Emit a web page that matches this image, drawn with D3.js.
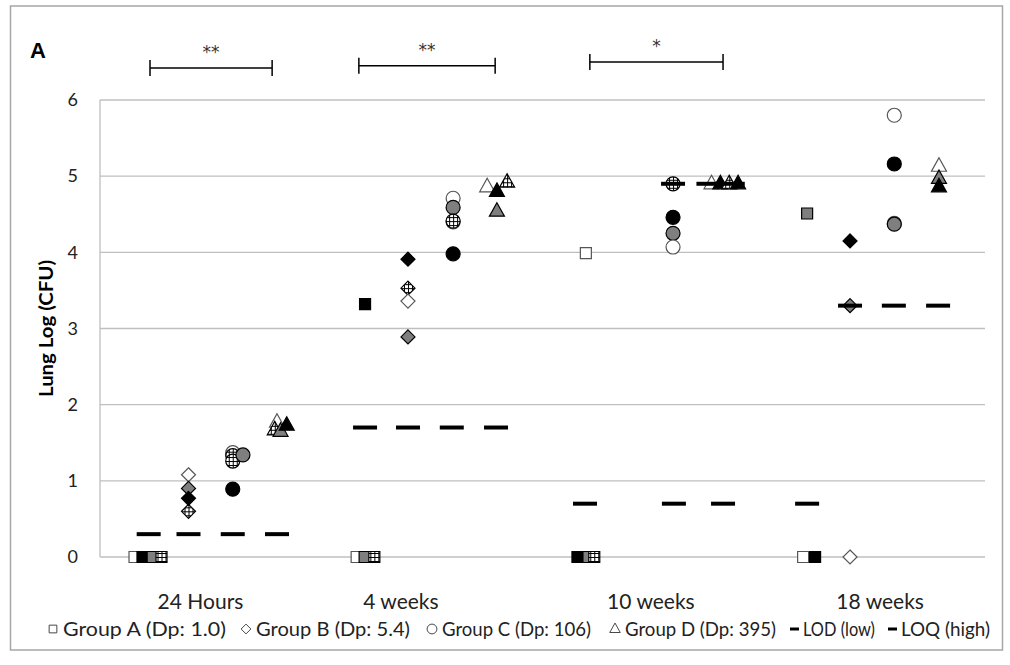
<!DOCTYPE html>
<html>
<head>
<meta charset="utf-8">
<script src="https://cdn.jsdelivr.net/npm/d3@7"></script>
<style>
body { margin: 0; background: #fff; }
svg { display: block; font-family: Lato, "Open Sans", sans-serif; }
</style>
</head>
<body>
<div id="chart"></div>
<script>
// each point: [position on the hidden 0-20 x axis, log CFU, fill]
// fill: w = white, g = grey, b = black, h = hatched
var groupA = [
    [0.78, 0, "w"], [0.96, 0, "b"], [1.19, 0, "g"], [1.39, 0, "h"],
    [5.8, 0, "w"], [5.98, 0, "g"], [6.2, 0, "h"], [5.99, 3.32, "b"],
    [10.98, 3.99, "w"], [10.96, 0, "g"], [10.79, 0, "b"], [11.17, 0, "h"],
    [15.98, 4.51, "g"], [15.89, 0, "w"], [16.16, 0, "b"]
];
var groupB = [
    [2.0, 1.08, "w"], [2.0, 0.9, "g"], [2.0, 0.77, "b"], [2.0, 0.6, "h"],
    [6.96, 3.91, "b"], [6.96, 3.53, "h"], [6.96, 3.36, "w"], [6.96, 2.89, "g"],
    [16.95, 4.15, "b"], [16.95, 3.3, "g"], [16.95, 0, "w"]
];
var groupC = [
    [3.0, 1.37, "w"], [3.0, 1.33, "h"], [3.0, 1.26, "h"], [3.23, 1.34, "g"], [3.0, 0.89, "b"],
    [7.98, 4.71, "w"], [7.98, 4.59, "g"], [7.98, 4.4, "w"], [7.98, 4.41, "h"], [7.98, 3.98, "b"],
    [12.95, 4.9, "h"], [12.95, 4.46, "b"], [12.95, 4.25, "g"], [12.95, 4.07, "w"],
    [17.95, 5.8, "w"], [17.95, 5.16, "b"], [17.95, 4.38, "w"], [17.95, 4.37, "g"]
];
var groupD = [
    [4.0, 1.77, "w"], [3.95, 1.67, "h"], [4.08, 1.65, "g"], [4.22, 1.73, "b"],
    [8.75, 4.86, "w"], [8.97, 4.8, "b"], [9.2, 4.92, "h"], [8.97, 4.54, "g"],
    [13.82, 4.9, "w"], [14.02, 4.9, "b"], [14.22, 4.9, "h"], [14.42, 4.9, "b"],
    [18.96, 5.13, "w"], [18.96, 4.97, "g"], [18.96, 4.86, "b"]
];
var lod = [[1.1, 0.3], [2.0, 0.3], [3.0, 0.3], [4.0, 0.3],
           [10.96, 0.7], [12.97, 0.7], [14.08, 0.7], [15.98, 0.7]];
var loq = [[5.99, 1.7], [6.96, 1.7], [7.95, 1.7], [8.95, 1.7],
           [12.95, 4.9], [13.75, 4.9], [14.3, 4.9],
           [16.95, 3.3], [17.94, 3.3], [18.94, 3.3]];

var sigStart = [1.13, 5.85, 11.07];
var sigEnd = [3.89, 8.93, 14.08];
var sigLevel = [6.42, 6.45, 6.5];
var sigLabel = ["**", "**", "*"];

var categories = ["24 Hours", "4 weeks", "10 weeks", "18 weeks"];
var categoryPos = [2.27, 6.8, 12.45, 17.63];
var yTicks = [0, 1, 2, 3, 4, 5, 6];
var xTicks = [0, 2, 4, 6, 8, 10, 12, 14, 16, 18, 20];
var legendLabels = ["Group A (Dp: 1.0)", "Group B (Dp: 5.4)", "Group C (Dp: 106)",
                    "Group D (Dp: 395)", "LOD (low)", "LOQ (high)"];

var width = 1010, height = 665;

var x = d3.scaleLinear().domain([0, 20]).range([100, 985]);
var y = d3.scaleLinear().domain([0, 6]).range([557, 100]);

var svg = d3.select("#chart").append("svg")
    .attr("width", width)
    .attr("height", height);

var defs = svg.append("defs");
var pat = defs.append("pattern")
    .attr("id", "hatch")
    .attr("patternUnits", "userSpaceOnUse")
    .attr("width", 4).attr("height", 4);
pat.append("rect").attr("width", 4).attr("height", 4).attr("fill", "#fff");
pat.append("path").attr("d", "M0,0.5H4M0.5,0V4").attr("stroke", "#000").attr("stroke-width", 1);

defs.append("clipPath").attr("id", "tickclip")
    .append("rect").attr("x", 80).attr("y", 574).attr("width", 930).attr("height", 4);

// figure frame
svg.append("rect")
    .attr("x", 10.5).attr("y", 6)
    .attr("width", 992).attr("height", 644)
    .attr("fill", "none")
    .attr("stroke", "#a6a6a6")
    .attr("stroke-width", 1.5);

svg.append("text")
    .attr("x", 30).attr("y", 58)
    .attr("font-family", "Liberation Sans, Arial, sans-serif")
    .attr("font-size", 22).attr("font-weight", "bold")
    .text("A");

// grid
svg.append("g").selectAll("line")
    .data(yTicks)
    .join("line")
    .attr("x1", x(0)).attr("x2", x(20))
    .attr("y1", d => y(d)).attr("y2", d => y(d))
    .attr("stroke", "#bfbfbf").attr("stroke-width", 1.3);

svg.append("line")
    .attr("x1", x(0)).attr("x2", x(0))
    .attr("y1", y(0)).attr("y2", y(6))
    .attr("stroke", "#bfbfbf").attr("stroke-width", 1.3);

var yAxis = svg.append("g")
    .attr("transform", "translate(" + x(0) + ",0)")
    .call(d3.axisLeft(y).tickValues(yTicks).tickSize(0).tickPadding(22).tickFormat(d3.format("d")));
yAxis.select(".domain").remove();
yAxis.selectAll("text")
    .attr("font-family", "Lato, sans-serif")
    .attr("font-size", 18)
    .attr("fill", "#222");

// x tick labels, mostly hidden under the category labels
var xAxis = svg.append("g")
    .attr("clip-path", "url(#tickclip)")
    .attr("transform", "translate(0," + y(0) + ")")
    .call(d3.axisBottom(x).tickValues(xTicks).tickSize(0).tickPadding(18).tickFormat(d3.format("d")));
xAxis.select(".domain").remove();
xAxis.selectAll("text")
    .attr("font-family", "Lato, sans-serif")
    .attr("font-size", 16)
    .attr("fill", "#444");

svg.append("text")
    .attr("transform", "translate(53," + y(3) + ") rotate(-90)")
    .attr("text-anchor", "middle")
    .attr("font-size", 19).attr("font-weight", "bold")
    .attr("textLength", 137).attr("lengthAdjust", "spacingAndGlyphs")
    .text("Lung Log (CFU)");

// significance brackets
var sig = svg.append("g");
sigStart.forEach(function (s, i) {
    var yy = y(sigLevel[i]);
    sig.append("line").attr("x1", x(s)).attr("x2", x(sigEnd[i]))
        .attr("y1", yy).attr("y2", yy).attr("stroke", "#000").attr("stroke-width", 1.5);
    [s, sigEnd[i]].forEach(function (e) {
        sig.append("line").attr("x1", x(e)).attr("x2", x(e))
            .attr("y1", yy - 8).attr("y2", yy + 8)
            .attr("stroke", "#000").attr("stroke-width", 1.5);
    });
    sig.append("text")
        .attr("x", (x(s) + x(sigEnd[i])) / 2)
        .attr("y", yy - 10)
        .attr("text-anchor", "middle")
        .attr("font-family", "DejaVu Sans, sans-serif")
        .attr("font-size", 17)
        .attr("fill", "#333")
        .text(sigLabel[i]);
});

function fillOf(f) {
    return f === "w" ? "#fff" : f === "g" ? "#7f7f7f" : f === "b" ? "#000" : "url(#hatch)";
}
function strokeOf(f) {
    return f === "w" ? "#555" : "#000";
}

var shapes = {
    square: "M-5.5,-5.5H5.5V5.5H-5.5Z",
    diamond: "M0,-7L7,0L0,7L-7,0Z",
    circle: d3.symbol(d3.symbolCircle, Math.PI * 7 * 7)(),
    triangle: "M0,-8.5L7.5,5L-7.5,5Z"
};

function drawGroup(data, shape) {
    svg.append("g").selectAll("path")
        .data(data)
        .join("path")
        .attr("transform", d => "translate(" + x(d[0]) + "," + y(d[1]) + ")")
        .attr("d", shapes[shape])
        .attr("fill", d => fillOf(d[2]))
        .attr("stroke", d => strokeOf(d[2]))
        .attr("stroke-width", 1.2);
}
drawGroup(groupA, "square");
drawGroup(groupB, "diamond");
drawGroup(groupC, "circle");
drawGroup(groupD, "triangle");

// detection limits
svg.append("g").selectAll("line")
    .data(lod.concat(loq))
    .join("line")
    .attr("x1", d => x(d[0]) - 12).attr("x2", d => x(d[0]) + 12)
    .attr("y1", d => y(d[1])).attr("y2", d => y(d[1]))
    .attr("stroke", "#000").attr("stroke-width", 4);

// category labels
svg.append("g").selectAll("text")
    .data(categories)
    .join("text")
    .attr("x", (d, i) => x(categoryPos[i]))
    .attr("y", 609)
    .attr("text-anchor", "middle")
    .attr("font-size", 21)
    .attr("fill", "#222")
    .text(d => d);

// legend
var legendX = [48, 241, 427, 610, 790, 888];
var legendW = [163, 154, 149, 151, 72, 89];
var legendShapes = ["square", "diamond", "circle", "triangle", "dash", "dash"];
var leg = svg.append("g").attr("transform", "translate(0,629)");
legendLabels.forEach(function (t, i) {
    var g = leg.append("g").attr("transform", "translate(" + legendX[i] + ",0)");
    var sh = legendShapes[i];
    if (sh === "dash") {
        g.append("line").attr("x1", 0).attr("x2", 9).attr("y1", 0).attr("y2", 0)
            .attr("stroke", "#000").attr("stroke-width", 3);
    } else {
        g.append("path")
            .attr("transform", "translate(5,0) scale(0.7)")
            .attr("d", shapes[sh])
            .attr("fill", "#fff").attr("stroke", "#444").attr("stroke-width", 1.4);
    }
    g.append("text")
        .attr("x", sh === "dash" ? 13 : 15).attr("y", 7)
        .attr("font-size", 19)
        .attr("fill", "#222")
        .attr("textLength", legendW[i]).attr("lengthAdjust", "spacingAndGlyphs")
        .text(t);
});
</script>
</body>
</html>
